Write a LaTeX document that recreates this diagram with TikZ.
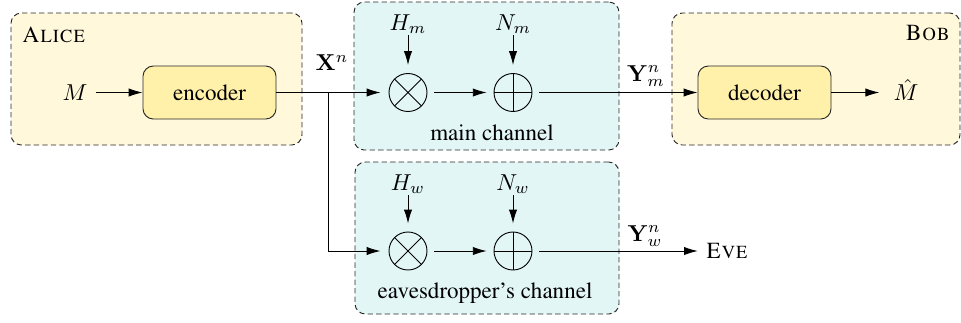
\documentclass[tikz,border=0pt]{standalone}
\usepackage[T1]{fontenc}
\usepackage{times}
\usetikzlibrary{arrows.meta,positioning}

\definecolor{userfill}{RGB}{255,248,218}
\definecolor{blockfill}{RGB}{255,240,170}
\definecolor{chanfill}{RGB}{227,246,246}
\definecolor{edgegray}{RGB}{40,40,40}

% one pixel of the layout grid
\def\px{0.434pt}

\begin{document}
\begin{tikzpicture}[
    x=\px, y=-\px,
    >={Latex[length=6pt,width=3.6pt]},
    every node/.style={font=\normalsize},
    userbox/.style={draw=edgegray, dash pattern=on 2.3pt off 1.4pt, fill=userfill, rounded corners=4.5pt},
    chanbox/.style={userbox, fill=chanfill},
    block/.style={draw=edgegray, fill=blockfill, rounded corners=4.5pt,
        minimum width=133*\px, minimum height=53*\px},
    gain/.style={inner sep=1pt},
    mixer/.style={circle, draw, minimum size=38*\px, inner sep=0pt,
        path picture={\draw (path picture bounding box.north west) -- (path picture bounding box.south east)
            (path picture bounding box.north east) -- (path picture bounding box.south west);}},
    adder/.style={circle, draw, minimum size=38*\px, inner sep=0pt,
        path picture={\draw (path picture bounding box.north) -- (path picture bounding box.south)
            (path picture bounding box.west) -- (path picture bounding box.east);}}
]
\useasboundingbox (0,0) rectangle (961,322);

% Alice and Bob
\node[userbox, minimum width=291*\px, minimum height=132*\px] (alice) at (156.5,79) {};
\node[userbox, minimum width=288*\px, minimum height=132*\px] (bob) at (816,79) {};
\node[anchor=west] (alicelabel) at (14,35) {\textsc{Alice}};
\node[anchor=east] (boblabel) at (958,33) {\textsc{Bob}};

% Channels
\node[chanbox, minimum width=265*\px, minimum height=148*\px] (mainch) at (486.5,76) {};
\node[chanbox, minimum width=264*\px, minimum height=152*\px] (evech) at (487,238) {};
\node (maincap) at (492,133) {main channel};
\node (evecap) at (485,293) {eavesdropper's channel};

% Encoder / decoder
\node[block] (encoder) at (209.5,92.5) {encoder};
\node[block] (decoder) at (764.5,92.5) {decoder};
\node (msg) at (75,92.5) {$M$};
\node[gain] (msghat) at (906,90) {$\hat{M}$};
\node (eve) at (727,251) {\textsc{Eve}};

% Main channel: fading and noise
\node[mixer] (mainmul) at (408,92.5) {};
\node[adder] (mainadd) at (513,92.5) {};
\node[gain] (hm) at (408,24) {$H_m$};
\node[gain] (nm) at (513,24) {$N_m$};

% Eavesdropper's channel
\node[mixer] (evemul) at (408,251) {};
\node[adder] (eveadd) at (513,251) {};
\node[gain] (hw) at (408,184) {$H_w$};
\node[gain] (nw) at (513,184) {$N_w$};

% Signal labels
\node[gain] (xn) at (332,63) {$\mathbf{X}^n$};
\node[gain] (ymn) at (646,76) {$\mathbf{Y}_m^n$};
\node[gain] (ywn) at (645,236) {$\mathbf{Y}_w^n$};

% Connectors
\coordinate (split) at (328,92.5);
\draw[->] (msg) -- (encoder);
\draw (encoder) -- (split);
\draw[->, shorten >=3.5pt] (split) -- (mainmul);
\draw[->, shorten >=3.5pt] (split) |- (evemul);
\draw[->, shorten <=3pt, shorten >=3pt] (mainmul) -- (mainadd);
\draw[->, shorten <=3pt, shorten >=3pt] (evemul) -- (eveadd);
\draw[->, shorten <=3pt] (mainadd) -- (decoder);
\draw[->, shorten >=5pt] (decoder) -- (decoder -| msghat.west);
\draw[->, shorten <=3pt] (eveadd) -- (eve);
\draw[->, shorten <=-0.5pt, shorten >=3.5pt] (hm) -- (mainmul);
\draw[->, shorten <=-0.5pt, shorten >=3.5pt] (nm) -- (mainadd);
\draw[->, shorten <=-0.5pt, shorten >=3.5pt] (hw) -- (evemul);
\draw[->, shorten <=-0.5pt, shorten >=3.5pt] (nw) -- (eveadd);

\end{tikzpicture}
\end{document}
